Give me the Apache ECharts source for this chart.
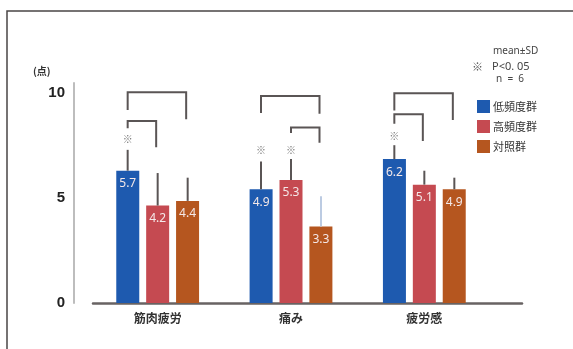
<!DOCTYPE html>
<html>
<head>
<meta charset="utf-8">
<script src="https://cdn.jsdelivr.net/npm/echarts@6/dist/echarts.min.js"></script>
<style>
html,body{margin:0;padding:0;background:#fff;}
#chart{width:573px;height:349px;}
</style>
</head>
<body>
<div id="chart"></div>
<script>
// ---- data ----
const categories = ['筋肉疲労', '痛み', '疲労感'];
const groupNames = ['低頻度群', '高頻度群', '対照群'];
const lowFreq = [5.7, 4.9, 6.2];
const highFreq = [4.2, 5.3, 5.1];
const control = [4.4, 3.3, 4.9];
const lowSD = [0.9, 1.2, 0.6];
const highSD = [1.4, 0.9, 0.6];
const controlSD = [1.0, 1.3, 0.5];
const yTicks = [0, 5, 10];
// significance brackets: [category, fromGroup, toGroup, topValue, fromLegEnd, toLegEnd]
const brackets = [
  [0, 0, 2, 9.08, 8.32, 7.92],
  [0, 0, 1, 7.84, 7.53, 6.71],
  [1, 0, 2, 8.92, 8.19, 8.15],
  [1, 1, 2, 7.56, 7.33, 6.90],
  [2, 0, 2, 9.04, 8.29, 7.89],
  [2, 0, 1, 8.13, 7.72, 6.98]
];
// ※ marks: [category, group, value]
const sigMarks = [[0, 0, 7.07], [1, 0, 6.59], [1, 1, 6.59], [2, 0, 7.20]];

// ---- styling ----
const colors = ['#1e5aaf', '#c54a51', '#b5561f'];
const GROUP_STEP = 30; // px between bar centers (barWidth + gap)
const means = [lowFreq, highFreq, control];
const sds = [lowSD, highSD, controlSD];

const errData = [];
means.forEach((arr, g) => arr.forEach((v, c) => errData.push([c, g, v, sds[g][c]])));

const chart = echarts.init(document.getElementById('chart'), null, {renderer: 'canvas'});

const barSeries = means.map((arr, g) => ({
  name: groupNames[g],
  type: 'bar',
  xAxisIndex: 0,
  yAxisIndex: 0,
  data: arr,
  barWidth: 23,
  barGap: '30%',
  itemStyle: {color: colors[g]},
  label: {
    show: true,
    position: 'insideTop',
    distance: 7,
    color: '#f4e8e8',
    fontSize: 12,
    fontFamily: 'Noto Sans',
    formatter: p => p.value.toFixed(1)
  },
  z: 2
}));

const option = {
  animation: false,
  backgroundColor: '#fff',
  grid: [
    {left: 91, width: 400, top: 83, bottom: 46},
    {left: 93, width: 429, top: 83, bottom: 46}
  ],
  xAxis: [
    {
      type: 'category', gridIndex: 0, data: categories,
      axisLine: {show: false}, axisTick: {show: false},
      axisLabel: {margin: 9, fontSize: 12, fontWeight: 'bold', color: '#333',
        fontFamily: 'Noto Sans CJK JP'}
    },
    {
      type: 'value', gridIndex: 1, min: 0, max: 1,
      axisLine: {show: true, lineStyle: {color: '#686363', width: 2.5}},
      axisTick: {show: false}, axisLabel: {show: false}, splitLine: {show: false}
    }
  ],
  yAxis: [
    {type: 'value', gridIndex: 0, min: 0, max: 9.48, show: false},
    {
      type: 'value', gridIndex: 0, position: 'left', offset: 17,
      min: 0, max: 10.476,
      axisLine: {show: true, lineStyle: {color: '#bdbdbd', width: 2}},
      axisTick: {show: false},
      splitLine: {show: false},
      axisLabel: {
        customValues: yTicks, margin: 9, fontSize: 15, fontWeight: 'bold',
        color: '#222', fontFamily: 'Liberation Sans'
      }
    },
    {type: 'value', gridIndex: 1, min: 0, max: 1, show: false}
  ],
  legend: {
    data: groupNames,
    orient: 'vertical',
    left: 472, top: 95,
    itemWidth: 13, itemHeight: 13, itemGap: 7,
    icon: 'rect',
    textStyle: {fontSize: 11, color: '#333', fontFamily: 'Noto Sans CJK JP', padding: [0, 0, 0, -2]}
  },
  series: barSeries.concat([
    {
      name: 'err',
      type: 'custom',
      xAxisIndex: 0, yAxisIndex: 0,
      data: errData,
      z: 3,
      renderItem: (params, api) => {
        const c = api.value(0), g = api.value(1), m = api.value(2), s = api.value(3);
        const p0 = api.coord([c, m]);
        const p1 = api.coord([c, m + s]);
        const x = p0[0] + (g - 1) * GROUP_STEP;
        const stroke = (c === 1 && g === 2) ? '#bccbe2' : '#5a5555';
        return {type: 'line', shape: {x1: x, y1: p0[1], x2: x, y2: p1[1]},
          style: {stroke: stroke, lineWidth: 2}};
      }
    },
    {
      name: 'brackets',
      type: 'custom',
      xAxisIndex: 0, yAxisIndex: 0,
      data: brackets,
      z: 3,
      renderItem: (params, api) => {
        const c = api.value(0), a = api.value(1), b = api.value(2);
        const top = api.coord([c, api.value(3)]);
        const ea = api.coord([c, api.value(4)]);
        const eb = api.coord([c, api.value(5)]);
        const xa = top[0] + (a - 1) * GROUP_STEP;
        const xb = top[0] + (b - 1) * GROUP_STEP - 1.5;
        return {type: 'polyline',
          shape: {points: [[xa, ea[1]], [xa, top[1]], [xb, top[1]], [xb, eb[1]]]},
          style: {stroke: '#5a5555', lineWidth: 2, fill: null}};
      }
    },
    {
      name: 'sig',
      type: 'custom',
      xAxisIndex: 0, yAxisIndex: 0,
      data: sigMarks,
      z: 3,
      renderItem: (params, api) => {
        const c = api.value(0), g = api.value(1);
        const p = api.coord([c, api.value(2)]);
        return {type: 'text', style: {text: '※', x: p[0] + (g - 1) * GROUP_STEP, y: p[1],
          align: 'center', verticalAlign: 'middle', fontSize: 10, fill: '#777',
          fontFamily: 'Noto Sans CJK JP'}};
      }
    }
  ]),
  graphic: [
    {type: 'polyline', shape: {points: [[7, 349], [7, 11], [573, 11]]},
      style: {stroke: '#4a4545', lineWidth: 1.5, fill: null}, silent: true},
    {type: 'text', left: 33, top: 66, style: {text: '(点)', fontSize: 10, fontWeight: 'bold',
      fill: '#333', fontFamily: 'Noto Sans CJK JP'}},
    {type: 'text', left: 493, top: 46, style: {text: 'mean±SD', fontSize: 10,
      fill: '#444', fontFamily: 'Noto Sans'}},
    {type: 'text', left: 472, top: 61, style: {text: '※', fontSize: 11,
      fill: '#555', fontFamily: 'Noto Sans CJK JP'}},
    {type: 'text', left: 492, top: 61, style: {text: 'P<0. 05', fontSize: 11,
      fill: '#444', fontFamily: 'Noto Sans'}},
    {type: 'text', left: 496, top: 74, style: {text: 'n  =  6', fontSize: 10,
      fill: '#444', fontFamily: 'Noto Sans'}}
  ]
};
chart.setOption(option);
</script>
</body>
</html>
